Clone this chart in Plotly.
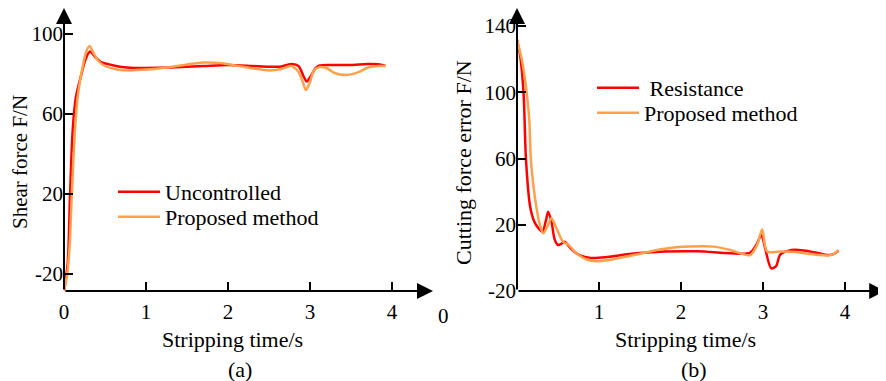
import plotly.graph_objects as go

# ---- data (a) ----
ta_red = [0, 0.045, 0.073, 0.106, 0.146, 0.215, 0.26, 0.317, 0.38, 0.45, 0.55, 0.7, 0.85, 1.0, 1.3, 1.7, 2.0, 2.3, 2.51, 2.65, 2.78, 2.86, 2.92, 2.96, 3.01, 3.07, 3.12, 3.3, 3.5, 3.7, 3.85, 3.92]
va_red = [-28.5, -14.7, 18.7, 52, 68.7, 80.3, 87, 91.2, 88.5, 86, 84.8, 83.5, 83, 83, 83.3, 84, 84.5, 84, 83.6, 83.8, 85, 84, 79, 76.2, 79, 83, 84.3, 84.5, 84.5, 85, 84.8, 84]

ta_org = [0, 0.04, 0.07, 0.094, 0.134, 0.167, 0.236, 0.27, 0.31, 0.36, 0.42, 0.5, 0.65, 0.8, 1.0, 1.3, 1.7, 1.9, 2.2, 2.51, 2.65, 2.77, 2.86, 2.92, 2.95, 3.0, 3.05, 3.12, 3.2, 3.3, 3.43, 3.55, 3.73, 3.85, 3.92]
va_org = [-28.5, -20, -5, 18.7, 52, 68.7, 85.3, 91, 94, 90.5, 86.5, 84, 82.3, 81.8, 82.2, 83.5, 85.7, 85.5, 83.5, 81.8, 82.5, 84, 81, 75, 72, 76, 82, 83.5, 83, 80.5, 79.5, 80.3, 83.5, 84, 84]

# ---- data (b) ----
tb_red = [0, 0.04, 0.08, 0.11, 0.16, 0.21, 0.26, 0.31, 0.35, 0.38, 0.42, 0.46, 0.5, 0.54, 0.58, 0.65, 0.75, 0.9, 1.1, 1.4, 1.8, 2.2, 2.6, 2.84, 2.92, 2.98, 3.03, 3.1, 3.16, 3.21, 3.35, 3.5, 3.68, 3.78, 3.86, 3.92]
vb_red = [131.6, 121.5, 99.4, 59, 31, 22, 18, 15.8, 22, 27.9, 22, 11, 7.8, 8.5, 9.8, 6, 2, 0, 0.5, 2.5, 3.8, 4, 2.8, 3, 8, 13.8, 5, -6.3, -5, 2, 4.8, 4.5, 2.8, 1.7, 2.3, 4.3]

tb_org = [0, 0.06, 0.1, 0.12, 0.15, 0.17, 0.235, 0.28, 0.32, 0.37, 0.42, 0.48, 0.56, 0.63, 0.72, 0.85, 0.98, 1.1, 1.4, 1.8, 2.1, 2.4, 2.6, 2.84, 2.93, 2.99, 3.05, 3.2, 3.4, 3.55, 3.68, 3.8, 3.87, 3.92]
vb_org = [131.6, 119.5, 107, 99, 83, 59, 31, 20, 14.8, 19, 23.9, 18, 9.8, 7.8, 3, -1, -2, -1.5, 1.5, 5.5, 6.8, 6.8, 4.8, 1.7, 8, 17.2, 3.8, 3.8, 3.5, 2.5, 1.7, 1.5, 2.5, 4.8]

xticks_a = [0, 1, 2, 3, 4]
xticks_b = [1, 2, 3, 4]
yticks_a = [-20, 20, 60, 100]
yticks_b = [-20, 20, 60, 100, 140]

RED = "#FF0000"
ORG = "#FFA04C"
FONT = "Liberation Serif"
OFF = 8                     # page body margin
W, H = 886 - OFF, 381 - OFF


def px(x):
    return (x - OFF) / W


def py(y):
    return 1 - (y - OFF) / H


fig = go.Figure()
traces = [
    (ta_red, va_red, "Uncontrolled", RED, "x", "y", "legend"),
    (ta_org, va_org, "Proposed method", ORG, "x", "y", "legend2"),
    (tb_red, vb_red, " Resistance", RED, "x2", "y2", "legend3"),
    (tb_org, vb_org, "Proposed method", ORG, "x2", "y2", "legend4"),
]
for xs, ys, name, col, xa, ya, lg in traces:
    fig.add_trace(go.Scatter(x=xs, y=ys, mode="lines", name=name,
                             line=dict(color=col, width=2.5, shape="spline", smoothing=0.8),
                             xaxis=xa, yaxis=ya, legend=lg))

ax_common = dict(showgrid=False, zeroline=False, showline=False, ticks="inside",
                 ticklen=9, tickwidth=2, tickcolor="black", automargin=False,
                 tickfont=dict(family=FONT, size=21, color="black"))

TOP = 8  # top of the plot areas (page px)
ya0 = -28.5
ya1 = ya0 + (291 - TOP) / 2.0
yb0 = -20
yb1 = yb0 + (291 - TOP) / 1.656
xr = 4.5

lfont = dict(family=FONT, size=22, color="black")


def leg(xp, yp):
    return dict(x=px(xp), y=py(yp), xanchor="left", yanchor="middle", font=lfont,
                bgcolor="rgba(0,0,0,0)", itemwidth=42)


fig.update_layout(
    width=W, height=H, autosize=False,
    margin=dict(l=0, r=0, t=0, b=0, autoexpand=False),
    paper_bgcolor="white", plot_bgcolor="white",
    xaxis=dict(domain=[px(64), px(64 + xr * 82)], range=[0, xr], tickvals=xticks_a,
               ticktext=[str(v) for v in xticks_a], anchor="y", ticklabelstandoff=6, **ax_common),
    yaxis=dict(domain=[py(291), py(TOP)], range=[ya0, ya1], tickvals=yticks_a,
               ticktext=[str(v) for v in yticks_a], anchor="x", **ax_common),
    xaxis2=dict(domain=[px(517), 1.0], range=[0, xr], tickvals=xticks_b,
                ticktext=[str(v) for v in xticks_b], anchor="y2", ticklabelstandoff=6, **ax_common),
    yaxis2=dict(domain=[py(291), py(TOP)], range=[yb0, yb1], tickvals=yticks_b,
                ticktext=[str(v) for v in yticks_b], anchor="x2", **ax_common),
    legend=leg(113, 192),
    legend2=leg(113, 217),
    legend3=leg(592, 88),
    legend4=leg(592, 113),
    showlegend=True,
)

# axis lines with arrowheads
arrow = dict(text="", showarrow=True, arrowhead=2, arrowsize=1.6, arrowwidth=2,
             arrowcolor="black", standoff=0)
fig.add_annotation(x=xr, y=ya0, ax=0, ay=ya0, xref="x", yref="y", axref="x", ayref="y", **arrow)
fig.add_annotation(x=0, y=ya1, ax=0, ay=ya0, xref="x", yref="y", axref="x", ayref="y", **arrow)
fig.add_annotation(x=xr - 0.01, y=yb0, ax=0, ay=yb0, xref="x2", yref="y2", axref="x2", ayref="y2", **arrow)
fig.add_annotation(x=0, y=yb1, ax=0, ay=yb0, xref="x2", yref="y2", axref="x2", ayref="y2", **arrow)

tf = dict(family=FONT, size=22, color="black")
fig.add_annotation(text="Shear force F/N", x=px(20), y=py(162), xref="paper", yref="paper",
                   textangle=-90, showarrow=False, font=dict(family=FONT, size=21, color="black"),
                   xanchor="center", yanchor="middle")
fig.add_annotation(text="Cutting force error F/N", x=px(463), y=py(163), xref="paper", yref="paper",
                   textangle=-90, showarrow=False, font=tf, xanchor="center", yanchor="middle")
fig.add_annotation(text="Stripping time/s", x=px(232), y=py(339), xref="paper", yref="paper",
                   showarrow=False, font=tf, xanchor="center", yanchor="middle")
fig.add_annotation(text="Stripping time/s", x=px(685), y=py(339), xref="paper", yref="paper",
                   showarrow=False, font=tf, xanchor="center", yanchor="middle")
fig.add_annotation(text="(a)", x=px(240), y=py(369), xref="paper", yref="paper",
                   showarrow=False, font=tf, xanchor="center", yanchor="middle")
fig.add_annotation(text="(b)", x=px(694), y=py(369), xref="paper", yref="paper",
                   showarrow=False, font=tf, xanchor="center", yanchor="middle")
fig.add_annotation(text="0", x=px(443), y=py(316), xref="paper", yref="paper",
                   showarrow=False, font=dict(family=FONT, size=21, color="black"),
                   xanchor="center", yanchor="middle")

fig.write_html("out.html")
